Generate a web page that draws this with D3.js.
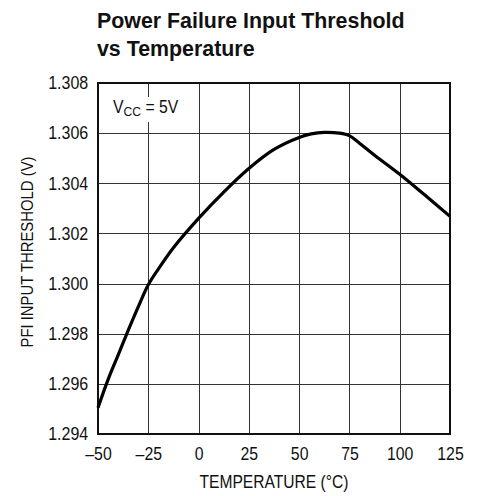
<!DOCTYPE html>
<html>
<head>
<meta charset="utf-8">
<script src="https://cdn.jsdelivr.net/npm/d3@7"></script>
<style>
  body { margin: 0; background: #fff; }
  text { font-family: "Liberation Sans", Arial, sans-serif; fill: #111; }
</style>
</head>
<body>
<script>
// data
const temps = [-50, -45, -40, -35, -30, -25, -20, -12.5, 0, 12.5, 25, 37.5, 50, 56, 62.5, 70, 75, 80, 87.5, 100, 112.5, 125]
const threshold = [1.29505, 1.29617, 1.29715, 1.29813, 1.29907, 1.29995, 1.30058, 1.30143, 1.3026, 1.30365, 1.30459, 1.30535, 1.30583, 1.30597, 1.30603, 1.30600, 1.3059, 1.3056, 1.30512, 1.30436, 1.30353, 1.30268]
const xTicks = [-50, -25, 0, 25, 50, 75, 100, 125]
const yTicks = [1.294, 1.296, 1.298, 1.300, 1.302, 1.304, 1.306, 1.308]

const W = 480, H = 496
const pLeft = 98, pRight = 450, pTop = 83, pBottom = 434

const svg = d3.select("body").append("svg")
  .attr("width", W).attr("height", H)

const x = d3.scaleLinear().domain([-50, 125]).range([pLeft, pRight])
const y = d3.scaleLinear().domain([1.294, 1.308]).range([pBottom, pTop])

// squeeze text sideways around its anchor x, the reference uses a condensed face
function condense(sel, k, ax) {
  sel.attr("transform", function () {
    const a = ax !== undefined ? ax : +this.getAttribute("x") || 0
    return `translate(${a},0) scale(${k},1) translate(${-a},0)`
  })
}

// title
svg.append("text").attr("x", 97).attr("y", 28)
  .attr("font-size", 23).attr("font-weight", "bold")
  .text("Power Failure Input Threshold").call(condense, 0.93)
svg.append("text").attr("x", 97).attr("y", 56)
  .attr("font-size", 23).attr("font-weight", "bold")
  .text("vs Temperature").call(condense, 0.93)

// grid
const grid = svg.append("g").attr("stroke", "#333").attr("stroke-width", 1)
grid.selectAll("line.v").data(xTicks.slice(1, -1)).join("line")
  .attr("x1", d => Math.round(x(d)) + 0.5).attr("x2", d => Math.round(x(d)) + 0.5)
  .attr("y1", pTop).attr("y2", pBottom)
grid.selectAll("line.h").data(yTicks.slice(1, -1)).join("line")
  .attr("y1", d => Math.round(y(d)) + 0.5).attr("y2", d => Math.round(y(d)) + 0.5)
  .attr("x1", pLeft).attr("x2", pRight)

// label box for Vcc, masks grid line behind it
svg.append("rect").attr("x", 108).attr("y", 97).attr("width", 78).attr("height", 25).attr("fill", "#fff")
const vcc = svg.append("text").attr("x", 113).attr("y", 113).attr("font-size", 17.5)
vcc.append("tspan").text("V")
vcc.append("tspan").attr("font-size", 13.5).attr("dy", 3).text("CC")
vcc.append("tspan").attr("dy", -3).text(" = 5V")
vcc.call(condense, 0.9)

// frame
svg.append("rect").attr("x", pLeft).attr("y", pTop)
  .attr("width", pRight - pLeft).attr("height", pBottom - pTop)
  .attr("fill", "none").attr("stroke", "#111").attr("stroke-width", 2)

// axes tick labels
const xAxis = d3.axisBottom(x).tickValues(xTicks).tickSize(0).tickPadding(13)
  .tickFormat(d => d < 0 ? "\u2013" + Math.abs(d) : d)
const gx = svg.append("g").attr("transform", `translate(0,${pBottom})`).call(xAxis)
gx.select(".domain").remove()
gx.selectAll("text").attr("font-size", 18).attr("fill", "#111")
  .style("font-family", '"Liberation Sans", Arial, sans-serif')
  .call(condense, 0.88, 0)

const yAxis = d3.axisLeft(y).tickValues(yTicks).tickSize(0).tickPadding(11)
  .tickFormat(d3.format(".3f"))
const gy = svg.append("g").attr("transform", `translate(${pLeft},0)`).call(yAxis)
gy.select(".domain").remove()
gy.selectAll("text").attr("font-size", 18).attr("fill", "#111")
  .style("font-family", '"Liberation Sans", Arial, sans-serif')
  .call(condense, 0.89, 0)

// axis titles
svg.append("text").attr("x", 274).attr("y", 488)
  .attr("text-anchor", "middle").attr("font-size", 17.5)
  .attr("textLength", 149).attr("lengthAdjust", "spacingAndGlyphs")
  .text("TEMPERATURE (\u00B0C)")
svg.append("text").attr("transform", `translate(33,252) rotate(-90)`)
  .attr("text-anchor", "middle").attr("font-size", 17)
  .attr("textLength", 191).attr("lengthAdjust", "spacingAndGlyphs")
  .text("PFI INPUT THRESHOLD (V)")

// curve
const line = d3.line().x((d, i) => x(temps[i])).y(d => y(d)).curve(d3.curveCatmullRom.alpha(0.5))
svg.append("path").datum(threshold)
  .attr("d", line).attr("fill", "none")
  .attr("stroke", "#000").attr("stroke-width", 3.2).attr("stroke-linejoin", "round")
</script>
</body>
</html>
